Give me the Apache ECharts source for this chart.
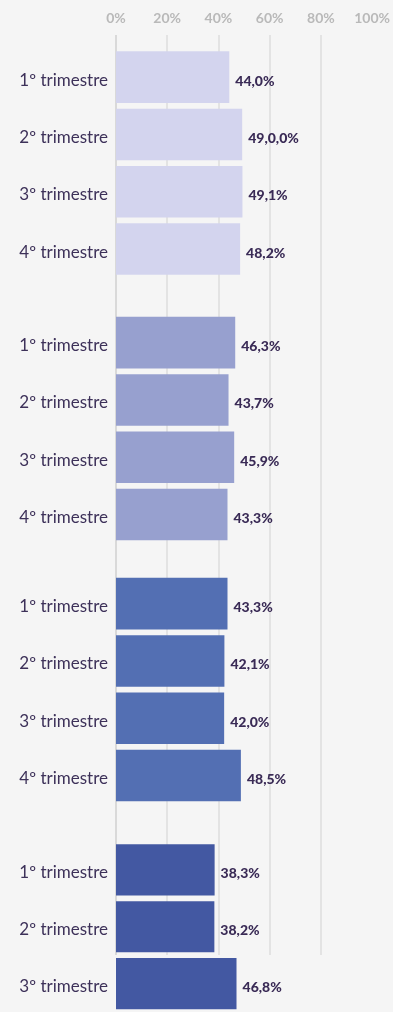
<!DOCTYPE html>
<html>
<head>
<meta charset="utf-8">
<script src="https://cdn.jsdelivr.net/npm/echarts@6/dist/echarts.min.js"></script>
<style>
  html, body { margin: 0; padding: 0; background: #f5f5f5; overflow: hidden; }
  #chart { width: 393px; height: 1012px; }
</style>
</head>
<body>
<div id="chart"></div>
<script>
// Quarterly shares, four blocks of quarters
const quarters = ['1º trimestre', '2º trimestre', '3º trimestre', '4º trimestre'];

const block1Values = [44.0, 49.0, 49.1, 48.2];
const block1Labels = ['44,0%', '49,0,0%', '49,1%', '48,2%'];

const block2Values = [46.3, 43.7, 45.9, 43.3];
const block2Labels = ['46,3%', '43,7%', '45,9%', '43,3%'];

const block3Values = [43.3, 42.1, 42.0, 48.5];
const block3Labels = ['43,3%', '42,1%', '42,0%', '48,5%'];

const block4Values = [38.3, 38.2, 46.8];
const block4Labels = ['38,3%', '38,2%', '46,8%'];

const axisTicks = [0, 20, 40, 60, 80, 100];

const blockColors = ['#d3d4ee', '#97a0cf', '#536fb3', '#4358a2'];

const blocks = [
  { values: block1Values, labels: block1Labels, top: 48.5 },
  { values: block2Values, labels: block2Labels, top: 314 },
  { values: block3Values, labels: block3Labels, top: 575 },
  { values: block4Values, labels: block4Labels, top: 841.5 }
];

const LEFT = 116;
const WIDTH = 257.5;
const SLOT = 57.3;

const grids = [{ left: LEFT, top: 35, width: WIDTH, height: 920 }];
const xAxes = [{
  gridIndex: 0,
  type: 'value',
  position: 'top',
  min: axisTicks[0],
  max: axisTicks[axisTicks.length - 1],
  interval: axisTicks[1] - axisTicks[0],
  axisLine: { show: false },
  axisTick: { show: false },
  axisLabel: {
    formatter: '{value}%',
    color: '#b9b9b9',
    fontFamily: 'Lato',
    fontWeight: 700,
    fontSize: 14,
    margin: 10
  },
  splitLine: {
    show: true,
    lineStyle: {
      color: ['#d9d9d9', '#e3e3e3', '#e3e3e3', '#e3e3e3', '#e3e3e3', 'rgba(0,0,0,0)'],
      width: 2
    }
  }
}];
const yAxes = [{ gridIndex: 0, type: 'value', show: false }];
const series = [];

blocks.forEach((b, i) => {
  const gi = i + 1;
  const cats = quarters.slice(0, b.values.length);
  grids.push({ left: LEFT, top: b.top, width: WIDTH, height: SLOT * b.values.length });
  xAxes.push({
    gridIndex: gi, type: 'value', min: 0, max: 100, show: false,
    splitLine: { show: false }
  });
  yAxes.push({
    gridIndex: gi,
    type: 'category',
    data: cats,
    inverse: true,
    axisLine: { show: false },
    axisTick: { show: false },
    axisLabel: {
      margin: 8,
      formatter: v => '{q|' + v + '}',
      rich: {
        q: {
          color: '#3d3159',
          fontFamily: 'Lato',
          fontSize: 17,
          padding: [6, 0, 0, 0]
        }
      }
    }
  });
  series.push({
    type: 'bar',
    xAxisIndex: gi,
    yAxisIndex: gi,
    data: b.values,
    barCategoryGap: '10%',
    itemStyle: { color: blockColors[i] },
    label: {
      show: true,
      position: 'right',
      distance: 6,
      offset: [0, 4],
      formatter: p => b.labels[p.dataIndex],
      color: '#3a2b56',
      fontFamily: 'Lato',
      fontWeight: 900,
      fontSize: 14
    },
    silent: true,
    animation: false
  });
});

const chart = echarts.init(document.getElementById('chart'), null, { renderer: 'canvas' });
chart.setOption({
  backgroundColor: '#f5f5f5',
  animation: false,
  grid: grids,
  xAxis: xAxes,
  yAxis: yAxes,
  series: series
});
</script>
</body>
</html>
